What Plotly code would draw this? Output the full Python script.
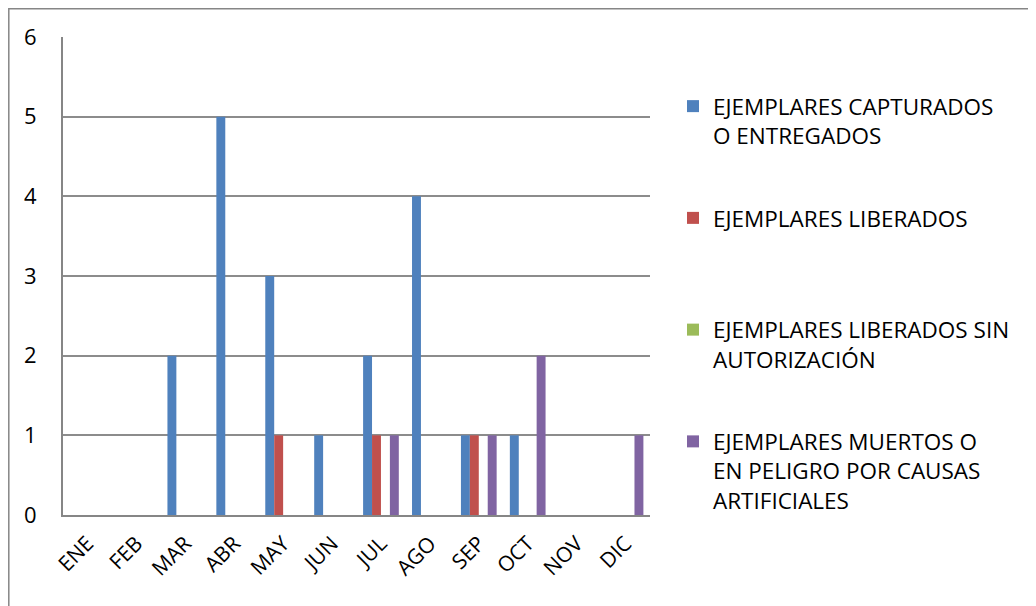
import plotly.graph_objects as go

months = ["ENE", "FEB", "MAR", "ABR", "MAY", "JUN", "JUL", "AGO", "SEP", "OCT", "NOV", "DIC"]
capturados = [0, 0, 2, 5, 3, 1, 2, 4, 1, 1, 0, 0]
liberados = [0, 0, 0, 0, 1, 0, 1, 0, 1, 0, 0, 0]
liberados_sin = [0, 0, 0, 0, 0, 0, 0, 0, 0, 0, 0, 0]
muertos = [0, 0, 0, 0, 0, 0, 1, 0, 1, 2, 0, 1]

series_names = [
    "EJEMPLARES CAPTURADOS<br>O ENTREGADOS",
    "EJEMPLARES LIBERADOS",
    "EJEMPLARES LIBERADOS SIN<br>AUTORIZACIÓN",
    "EJEMPLARES MUERTOS O<br>EN PELIGRO POR CAUSAS<br>ARTIFICIALES",
]
series_values = [capturados, liberados, liberados_sin, muertos]
series_colors = ["#4F81BD", "#C0504D", "#9BBB59", "#8064A2"]
y_ticks = [0, 1, 2, 3, 4, 5, 6]

FONT = "Open Sans"
OFF = 8  # page body margin
W, H = 1036 - OFF, 606 - OFF
# plot area in screen pixels: x 63..650, y 37..515
L, T = 63 - OFF, 37 - OFF
R = W - (650 - OFF)
B = H - (515 - OFF)
pw, ph = W - L - R, H - T - B

fig = go.Figure()
for name, vals, col in zip(series_names, series_values, series_colors):
    nlines = name.count("<br>") + 1
    label = name + "<br>&nbsp;" * (3 - nlines)
    fig.add_trace(go.Bar(x=months, y=vals, name=label, marker_color=col,
                         marker_line_width=0, legendgroup=name))

def px_x(sx):
    return (sx - OFF - L) / pw

def px_y(sy):
    return (H - B - (sy - OFF)) / ph

fig.add_shape(type="rect", xref="paper", yref="paper",
              x0=px_x(8.8), x1=px_x(1036 + 20), y0=px_y(8.8), y1=px_y(606 + 20),
              line=dict(color="#868686", width=1.5), fillcolor="rgba(0,0,0,0)")

fig.update_layout(
    width=W, height=H,
    margin=dict(l=L, r=R, t=T, b=B, autoexpand=False),
    paper_bgcolor="white", plot_bgcolor="white",
    barmode="group", bargap=0.27, bargroupgap=0,
    font=dict(family=FONT, size=21, color="#000000"),
    showlegend=True,
    legend=dict(x=px_x(673), y=px_y(85), xanchor="left", yanchor="top",
                valign="top", tracegroupgap=21, itemwidth=30,
                font=dict(family=FONT, size=22.5, color="#000000"),
                bgcolor="rgba(0,0,0,0)"),
    xaxis=dict(showgrid=False, showline=True, linecolor="#868686", linewidth=2,
               tickangle=-45, ticks="", tickfont=dict(size=21),
               ticklabelstandoff=6, fixedrange=True),
    yaxis=dict(range=[0, 6], tickvals=y_ticks, showgrid=True, gridcolor="#8C8C8C",
               gridwidth=1.5, showline=True, linecolor="#868686", linewidth=2,
               zeroline=False, ticks="", tickfont=dict(size=22),
               ticklabelstandoff=20),
)
fig.write_html("out.html")
